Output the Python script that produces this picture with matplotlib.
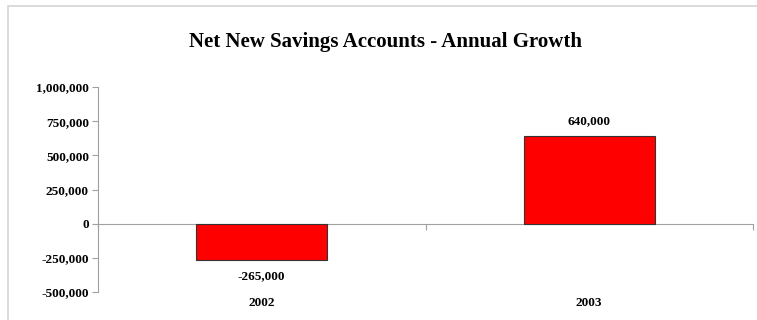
import numpy as np
import matplotlib
matplotlib.use("Agg")
import matplotlib.pyplot as plt
from matplotlib.ticker import FuncFormatter, FixedLocator
from matplotlib.patches import Rectangle

plt.rcParams['font.family'] = ['Liberation Serif', 'DejaVu Serif']

years = ["2002", "2003"]
growth = [-265000, 640000]
yticks = [-500000, -250000, 0, 250000, 500000, 750000, 1000000]

fig = plt.figure(figsize=(7.57, 3.2), dpi=100)
# light frame round the chart area
fig.patches.append(Rectangle((8/757, -0.01), 1.0, 1 - 5.5/320 + 0.01, transform=fig.transFigure,
                             fill=False, edgecolor="#d4d4d4", linewidth=1.2))
ax = fig.add_axes([98/757, 1 - 292/320, (753 - 98)/757, (292 - 87)/320])

x = np.arange(len(years))
bars = ax.bar(x, growth, width=0.40, color="#ff0000", edgecolor="#333333", linewidth=0.8, zorder=3)

ax.set_xlim(-0.5, len(years) - 0.5)
ax.set_ylim(-500000, 1000000)
ax.set_yticks(yticks)
ax.yaxis.set_major_formatter(FuncFormatter(lambda v, p: "{:,.0f}".format(v)))

for s in ["top", "right"]:
    ax.spines[s].set_visible(False)
ax.spines["left"].set_color("#a0a0a0")
ax.spines["bottom"].set_color("#a0a0a0")
ax.spines["bottom"].set_position(("data", 0))

ax.tick_params(axis="y", length=4, width=0.8, color="#a0a0a0", pad=2.5, labelsize=9.5)
for lab in ax.get_yticklabels():
    lab.set_fontweight("bold")

# category labels sit under the plot area, boundary ticks sit on the zero line
ax.set_xticks(x)
ax.set_xticklabels(years, fontsize=9.5, fontweight="bold")
ax.xaxis.set_minor_locator(FixedLocator(np.arange(len(years) + 1) - 0.5))
ax.tick_params(axis="x", which="major", length=0, pad=53)
ax.tick_params(axis="x", which="minor", length=4, width=0.8, color="#a0a0a0")

for b, v in zip(bars, growth):
    off = 10.5 if v >= 0 else -12
    ax.annotate("{:,.0f}".format(v), (b.get_x() + b.get_width() / 2, v),
                xytext=(0, off), textcoords="offset points", ha="center",
                va="center", fontsize=9.5, fontweight="bold")

fig.text(386/757, 1 - 42/320, "Net New Savings Accounts - Annual Growth",
         ha="center", va="center", fontsize=15, fontweight="bold")

fig.savefig("out.png", dpi=100)
